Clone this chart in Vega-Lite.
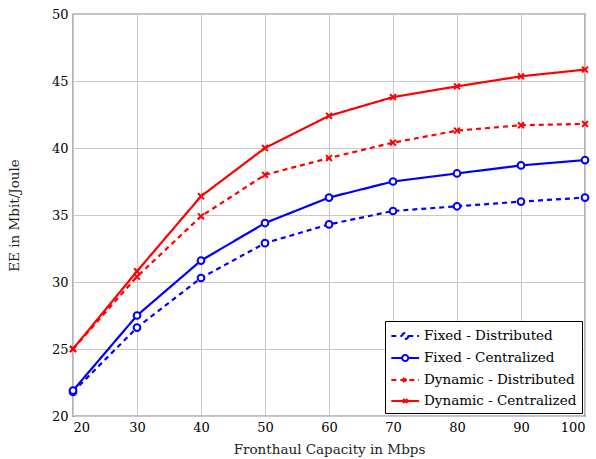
{
  "$schema": "https://vega.github.io/schema/vega-lite/v6.json",
  "autosize": "none",
  "width": 512,
  "height": 402,
  "padding": {"left": 73, "top": 14, "right": 11, "bottom": 43},
  "background": "white",
  "config": {
    "font": "DejaVu Serif",
    "view": {"stroke": "black", "strokeWidth": 1.2},
    "axis": {
      "labelFont": "DejaVu Serif",
      "titleFont": "DejaVu Serif",
      "labelFontSize": 13,
      "titleFontSize": 13.5,
      "titleFontWeight": "normal",
      "labelColor": "black",
      "titleColor": "#222",
      "gridColor": "#c8c8c8",
      "gridWidth": 1,
      "gridOpacity": 1,
      "domain": false,
      "ticks": false
    }
  },
  "data": {
    "values": [
      {"cap": 20, "ee": 21.8, "series": "Fixed - Distributed"},
      {"cap": 30, "ee": 26.6, "series": "Fixed - Distributed"},
      {"cap": 40, "ee": 30.3, "series": "Fixed - Distributed"},
      {"cap": 50, "ee": 32.9, "series": "Fixed - Distributed"},
      {"cap": 60, "ee": 34.3, "series": "Fixed - Distributed"},
      {"cap": 70, "ee": 35.3, "series": "Fixed - Distributed"},
      {"cap": 80, "ee": 35.65, "series": "Fixed - Distributed"},
      {"cap": 90, "ee": 36.0, "series": "Fixed - Distributed"},
      {"cap": 100, "ee": 36.3, "series": "Fixed - Distributed"},
      {"cap": 20, "ee": 21.9, "series": "Fixed - Centralized"},
      {"cap": 30, "ee": 27.5, "series": "Fixed - Centralized"},
      {"cap": 40, "ee": 31.6, "series": "Fixed - Centralized"},
      {"cap": 50, "ee": 34.4, "series": "Fixed - Centralized"},
      {"cap": 60, "ee": 36.3, "series": "Fixed - Centralized"},
      {"cap": 70, "ee": 37.5, "series": "Fixed - Centralized"},
      {"cap": 80, "ee": 38.1, "series": "Fixed - Centralized"},
      {"cap": 90, "ee": 38.7, "series": "Fixed - Centralized"},
      {"cap": 100, "ee": 39.1, "series": "Fixed - Centralized"},
      {"cap": 20, "ee": 25.0, "series": "Dynamic - Distributed"},
      {"cap": 30, "ee": 30.4, "series": "Dynamic - Distributed"},
      {"cap": 40, "ee": 34.9, "series": "Dynamic - Distributed"},
      {"cap": 50, "ee": 38.0, "series": "Dynamic - Distributed"},
      {"cap": 60, "ee": 39.25, "series": "Dynamic - Distributed"},
      {"cap": 70, "ee": 40.4, "series": "Dynamic - Distributed"},
      {"cap": 80, "ee": 41.3, "series": "Dynamic - Distributed"},
      {"cap": 90, "ee": 41.7, "series": "Dynamic - Distributed"},
      {"cap": 100, "ee": 41.8, "series": "Dynamic - Distributed"},
      {"cap": 20, "ee": 25.0, "series": "Dynamic - Centralized"},
      {"cap": 30, "ee": 30.8, "series": "Dynamic - Centralized"},
      {"cap": 40, "ee": 36.4, "series": "Dynamic - Centralized"},
      {"cap": 50, "ee": 40.0, "series": "Dynamic - Centralized"},
      {"cap": 60, "ee": 42.4, "series": "Dynamic - Centralized"},
      {"cap": 70, "ee": 43.8, "series": "Dynamic - Centralized"},
      {"cap": 80, "ee": 44.6, "series": "Dynamic - Centralized"},
      {"cap": 90, "ee": 45.35, "series": "Dynamic - Centralized"},
      {"cap": 100, "ee": 45.85, "series": "Dynamic - Centralized"}
    ]
  },
  "encoding": {
    "x": {
      "field": "cap", "type": "quantitative",
      "scale": {"domain": [20, 100], "nice": false},
      "axis": {"values": [20, 30, 40, 50, 60, 70, 80, 90, 100], "title": "Fronthaul Capacity in Mbps", "labelPadding": 5, "titlePadding": 8}
    },
    "y": {
      "field": "ee", "type": "quantitative",
      "scale": {"domain": [20, 50], "nice": false, "zero": false},
      "axis": {"values": [20, 25, 30, 35, 40, 45, 50], "title": "EE in Mbit/Joule", "labelPadding": 5, "titlePadding": 30}
    },
    "color": {
      "field": "series", "type": "nominal",
      "scale": {
        "domain": ["Fixed - Distributed", "Fixed - Centralized", "Dynamic - Distributed", "Dynamic - Centralized"],
        "range": ["#0000ff", "#0000ff", "#ff0000", "#ff0000"]
      },
      "legend": {
        "title": null,
        "orient": "bottom-right",
        "offset": 3,
        "strokeColor": "black",
        "fillColor": "white",
        "padding": 5,
        "rowPadding": 4,
        "symbolSize": 300,
        "symbolStrokeWidth": 2,
        "symbolType": "M-1,0H2.2",
        "labelOffset": 14,
        "labelFont": "DejaVu Serif",
        "labelFontSize": 13.5,
        "labelColor": "black",
        "encode": {
          "symbols": {
            "update": {
              "shape": {"signal": "indexof(datum.value, 'Fixed') >= 0 ? 'M-1,0H0.25M0.95,0H2.2M0.95,0A0.35,0.35 0 1,1 0.25,0A0.35,0.35 0 1,1 0.95,0' : 'M-1,0H2.2M0.35,-0.25L0.85,0.25M0.35,0.25L0.85,-0.25'"},
              "fill": {"value": "transparent"}
            }
          }
        }
      }
    }
  },
  "layer": [
    {
      "mark": {"type": "line", "strokeWidth": 2.2},
      "encoding": {
        "strokeDash": {
          "field": "series", "type": "nominal",
          "scale": {
            "domain": ["Fixed - Distributed", "Fixed - Centralized", "Dynamic - Distributed", "Dynamic - Centralized"],
            "range": [[5, 4], [1, 0], [5, 4], [1, 0]]
          }
        }
      }
    },
    {
      "transform": [{"filter": "indexof(datum.series, 'Fixed') >= 0"}],
      "mark": {"type": "point", "shape": "circle", "filled": false, "fill": "white", "strokeWidth": 2, "size": 45, "opacity": 1}
    },
    {
      "transform": [{"filter": "indexof(datum.series, 'Dynamic') >= 0"}],
      "mark": {"type": "point", "shape": "M-1,-1L1,1M-1,1L1,-1", "filled": false, "strokeWidth": 2, "size": 35, "opacity": 1}
    }
  ]
}
